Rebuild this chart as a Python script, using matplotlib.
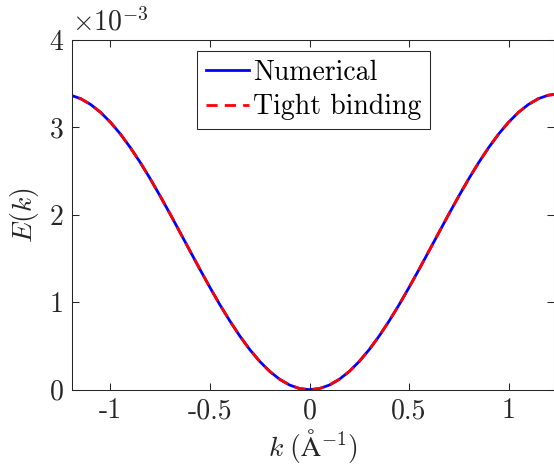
import matplotlib
matplotlib.use("Agg")
import matplotlib.pyplot as plt

# E(k), in units of 1e-3
k = [-1.25, -1.20, -1.15, -1.10, -1.05, -1.00, -0.95, -0.90, -0.85, -0.80,
     -0.75, -0.70, -0.65, -0.60, -0.55, -0.50, -0.45, -0.40, -0.35, -0.30,
     -0.25, -0.20, -0.15, -0.10, -0.05, 0.00, 0.05, 0.10, 0.15, 0.20,
     0.25, 0.30, 0.35, 0.40, 0.45, 0.50, 0.55, 0.60, 0.65, 0.70,
     0.75, 0.80, 0.85, 0.90, 0.95, 1.00, 1.05, 1.10, 1.15, 1.20, 1.25]
E_half = [0.000, 0.013, 0.053, 0.119, 0.209, 0.323, 0.458, 0.613, 0.785,
          0.970, 1.168, 1.373, 1.584, 1.796, 2.007, 2.212, 2.410, 2.596,
          2.767, 2.922, 3.057, 3.171, 3.261, 3.327, 3.367, 3.380]
E_numerical = E_half[::-1] + E_half[1:]
E_tight = list(E_numerical)

xticks = [-1, -0.5, 0, 0.5, 1]
xticklabels = ['-1', '-0.5', '0', '0.5', '1']
yticks = [0, 1, 2, 3, 4]
yticklabels = ['0', '1', '2', '3', '4']

plt.rcParams['font.family'] = 'serif'
plt.rcParams['font.serif'] = ['cmr10', 'DejaVu Serif']
plt.rcParams['mathtext.fontset'] = 'cm'
plt.rcParams['axes.unicode_minus'] = False
fs = 20

fig = plt.figure(figsize=(5.54, 4.70), dpi=100)
ax = fig.add_axes([0.1294, 0.1709, 0.8697, 0.7444])

ax.plot(k, E_numerical, color=(0, 0, 1), lw=2.0, label='Numerical')
ax.plot(k, E_tight, color=(1, 0, 0), lw=2.0, dashes=(4.0, 2.6), label='Tight binding')

ax.set_xlim(-1.195, 1.226)
ax.set_ylim(0, 4)
ax.set_xticks(xticks)
ax.set_xticklabels(xticklabels, fontsize=fs)
ax.set_yticks(yticks)
ax.set_yticklabels(yticklabels, fontsize=fs)
ax.tick_params(direction='in', top=True, right=True, length=5, width=0.75,
               color='#262626', labelcolor='#262626', pad=6)
for s in ax.spines.values():
    s.set_linewidth(0.75)
    s.set_color('#262626')

ax.set_xlabel(r'$k\;(\mathrm{\AA}^{-1})$', fontsize=fs, color='#262626', labelpad=2)
ax.set_ylabel(r'$E(k)$', fontsize=fs, color='#262626', labelpad=6)
ax.text(0.0, 1.01, r'$\times 10^{-3}$', transform=ax.transAxes, fontsize=fs,
        ha='left', va='bottom', color='#262626')

leg = ax.legend(loc='upper center', bbox_to_anchor=(0.502, 0.968), borderaxespad=0,
                fontsize=fs, frameon=True, fancybox=False, framealpha=1,
                edgecolor='#262626', handlelength=1.55, handletextpad=0.15,
                borderpad=0.3, labelspacing=0.3)
leg.get_frame().set_linewidth(0.75)

fig.savefig('out.png', dpi=100)
